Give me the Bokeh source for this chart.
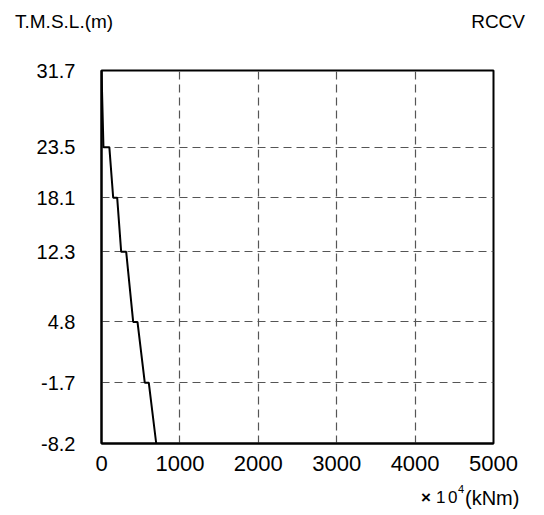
from bokeh.plotting import figure
from bokeh.models import Range1d, FixedTicker, Div
from bokeh.layouts import column
from bokeh.embed import file_html
from bokeh.resources import INLINE

# Elevation levels (T.M.S.L., m)
levels = [31.7, 23.5, 18.1, 12.3, 4.8, -1.7, -8.2]
level_labels = ["31.7", "23.5", "18.1", "12.3", "4.8", "-1.7", "-8.2"]
# Moment at the top and bottom of each segment (x 10^4 kNm)
moment_top = [0, 100, 200, 315, 459, 603]
moment_bottom = [25, 149, 251, 404, 552, 698]
x_ticks = [0, 1000, 2000, 3000, 4000, 5000]
y_title = "T.M.S.L.(m)"
panel_title = "RCCV"

xs, ys = [], []
for i in range(len(moment_top)):
    xs += [moment_top[i], moment_bottom[i]]
    ys += [levels[i], levels[i + 1]]

FONT = "Liberation Sans"

TOP_H = 45
BOT_H = 35
FIG_H = 515 - TOP_H - BOT_H

p = figure(width=544, height=FIG_H, output_backend="svg", toolbar_location=None,
           x_range=Range1d(0, 5000), y_range=Range1d(-8.2, 31.7),
           min_border_left=101, min_border_right=51,
           min_border_top=70 - TOP_H, min_border_bottom=FIG_H - (443 - TOP_H),
           margin=0)

p.line(xs, ys, line_color="black", line_width=2)

p.xaxis.ticker = FixedTicker(ticks=x_ticks)
p.yaxis.ticker = FixedTicker(ticks=levels)
p.yaxis.major_label_overrides = {v: s for v, s in zip(levels, level_labels)}

for ax in (p.xaxis[0], p.yaxis[0]):
    ax.major_tick_in = 0
    ax.major_tick_out = 0
    ax.minor_tick_in = 0
    ax.minor_tick_out = 0
    ax.axis_line_color = "black"
    ax.axis_line_width = 2
    ax.major_label_text_font = FONT
    ax.major_label_text_color = "black"

p.yaxis.major_label_text_font_size = "20px"
p.yaxis.major_label_standoff = 26
p.xaxis.major_label_text_font_size = "22px"
p.xaxis.major_label_standoff = 12

p.outline_line_color = "black"
p.outline_line_width = 2
p.outline_line_alpha = 1

for g in (p.xgrid[0], p.ygrid[0]):
    g.grid_line_color = "#555555"
    g.grid_line_width = 1.2
    g.grid_line_dash = "8 5"

top_html = (
    f'<div style="position:relative;width:544px;height:{TOP_H}px;'
    f'font-family:\'{FONT}\',Arial,sans-serif;color:black;">'
    f'<span style="position:absolute;left:15px;top:11px;font-size:19px;line-height:22px;'
    f'white-space:nowrap;">{y_title}</span>'
    f'<span style="position:absolute;right:19px;top:11px;font-size:19px;line-height:22px;'
    f'white-space:nowrap;">{panel_title}</span>'
    '</div>'
)


def span(left, top, size, text, bold=False):
    w = "bold" if bold else "normal"
    return (f'<span style="position:absolute;left:{left}px;top:{top}px;font-size:{size}px;'
            f'line-height:{size + 4}px;font-weight:{w};white-space:nowrap;">{text}</span>')


bot_html = (
    f'<div style="position:relative;width:544px;height:{BOT_H}px;'
    f'font-family:\'{FONT}\',Arial,sans-serif;color:black;">'
    + span(421, 7, 17, "×", bold=True)
    + span(436, 7, 17, "1")
    + span(448, 7, 17, "0")
    + span(458, 2, 11, "4")
    + span(465, 6, 20, "(kNm)")
    + '</div>'
)

top_div = Div(text=top_html, width=544, height=TOP_H, margin=0)
bot_div = Div(text=bot_html, width=544, height=BOT_H, margin=0)

layout = column(top_div, p, bot_div, spacing=0, margin=0)

open("out.html", "w").write(file_html(layout, INLINE))
